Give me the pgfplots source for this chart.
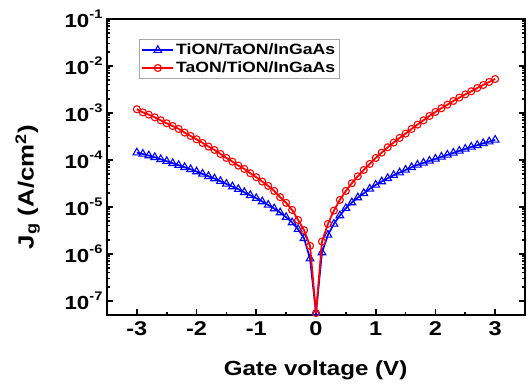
\documentclass[border=0pt]{standalone}
\usepackage{fontspec}
\setmainfont{Liberation Sans}[FakeStretch=1.18]
\usepackage{pgfplots}
\pgfplotsset{compat=1.18}
\newcommand{\tp}[1]{10\raisebox{0.45em}{\fontsize{12.5}{12.5}\selectfont\bfseries #1}}
\begin{document}
\begin{tikzpicture}
\useasboundingbox (-107bp,-76bp) rectangle (425bp,315bp);
\begin{axis}[
  at={(0,0)}, anchor=south west,
  width=418bp, height=296bp, scale only axis,
  ymode=log,
  xmin=-3.5, xmax=3.5, ymin=5e-8, ymax=1e-1,
  xtick={-3,-2,-1,0,1,2,3},
  xticklabels={-3,-2,-1,0,1,2,3},
  minor x tick num=1,
  ytick={1e-7,1e-6,1e-5,1e-4,1e-3,1e-2,1e-1},
  yticklabels={\tp{-7},\tp{-6},\tp{-5},\tp{-4},\tp{-3},\tp{-2},\tp{-1}},
  xtick pos=bottom, ytick pos=both,
  tick align=inside,
  major tick length=6bp, minor tick length=3.5bp,
  tick style={line width=1.6pt, black},
  axis line style={line width=2.2pt},
  xticklabel style={font=\fontsize{20}{20}\selectfont\bfseries, yshift=-3bp},
  yticklabel style={font=\fontsize{19}{19}\selectfont\bfseries, xshift=-1bp},
  xlabel={Gate voltage (V)},
  ylabel={J\textsubscript{g} (A/cm\textsuperscript{2})},
  xlabel style={font=\fontsize{20.5}{20.5}\selectfont\bfseries, at={(axis description cs:0.499,-0.186)}, anchor=center},
  ylabel style={font=\fontsize{22}{22}\selectfont\bfseries, at={(axis description cs:-0.19,0.432)}, anchor=center, rotate=0},
  clip mode=individual,
  legend style={at={(axis description cs:0.0766,0.932)}, anchor=north west, draw=gray!70, line width=0.8pt,
    font=\fontsize{15}{15}\selectfont\bfseries, inner xsep=2pt, inner ysep=2.5pt, row sep=1.5pt},
  legend cell align=left,
  legend image code/.code={\draw[mark repeat=2,mark phase=2,#1] plot coordinates {(0bp,0bp) (15.5bp,0bp) (31bp,0bp)};},
]
\addplot[blue, line width=1.7pt, mark=triangle, mark size=4.4bp, mark options={solid, fill=white, line width=1.1pt}] coordinates {
(-3.0,1.43e-4) (-2.9,1.34e-4) (-2.8,1.24e-4) (-2.7,1.14e-4) (-2.6,1.03e-4) (-2.5,9.38e-5)
(-2.4,8.49e-5) (-2.3,7.71e-5) (-2.2,6.98e-5) (-2.1,6.32e-5) (-2.0,5.65e-5) (-1.9,5.04e-5)
(-1.8,4.49e-5) (-1.7,4.01e-5) (-1.6,3.52e-5) (-1.5,3.08e-5) (-1.4,2.71e-5) (-1.3,2.38e-5)
(-1.2,2.05e-5) (-1.1,1.77e-5) (-1.0,1.53e-5) (-0.9,1.30e-5) (-0.8,1.10e-5) (-0.7,9.23e-6)
(-0.6,7.57e-6) (-0.5,6.03e-6) (-0.4,4.65e-6) (-0.3,3.35e-6) (-0.2,2.15e-6) (-0.1,7.9e-7)
(0.0,5.5e-8)
(0.1,1.07e-6) (0.2,2.54e-6) (0.3,4.35e-6) (0.4,6.55e-6) (0.5,9.38e-6) (0.6,1.24e-5)
(0.7,1.58e-5) (0.8,1.95e-5) (0.9,2.42e-5) (1.0,2.94e-5) (1.1,3.46e-5) (1.2,4.07e-5)
(1.3,4.72e-5) (1.4,5.37e-5) (1.5,6.12e-5) (1.6,6.98e-5) (1.7,7.83e-5) (1.8,8.63e-5)
(1.9,9.53e-5) (2.0,1.05e-4) (2.1,1.16e-4) (2.2,1.28e-4) (2.3,1.41e-4) (2.4,1.55e-4)
(2.5,1.71e-4) (2.6,1.89e-4) (2.7,2.05e-4) (2.8,2.26e-4) (2.9,2.45e-4) (3.0,2.67e-4)
};
\addlegendentry{TiON/TaON/InGaAs}
\addplot[red, line width=1.8pt, mark=o, mark size=3.5bp, mark options={solid, fill=white, line width=1.1pt}] coordinates {
(-3.0,1.20e-3) (-2.9,1.03e-3) (-2.8,9.20e-4) (-2.7,8.09e-4) (-2.6,6.98e-4) (-2.5,6.03e-4)
(-2.4,5.28e-4) (-2.3,4.57e-4) (-2.2,3.82e-4) (-2.1,3.24e-4) (-2.0,2.75e-4) (-1.9,2.30e-4)
(-1.8,1.92e-4) (-1.7,1.63e-4) (-1.6,1.34e-4) (-1.5,1.10e-4) (-1.4,9.20e-5) (-1.3,7.57e-5)
(-1.2,6.44e-5) (-1.1,5.21e-5) (-1.0,4.29e-5) (-0.9,3.46e-5) (-0.8,2.80e-5) (-0.7,2.19e-5)
(-0.6,1.61e-5) (-0.5,1.22e-5) (-0.4,8.63e-6) (-0.3,5.28e-6) (-0.2,3.19e-6) (-0.1,1.48e-6)
(0.0,5.5e-8)
(0.1,1.83e-6) (0.2,4.35e-6) (0.3,8.36e-6) (0.4,1.41e-5) (0.5,2.19e-5) (0.6,3.19e-5)
(0.7,4.49e-5) (0.8,6.12e-5) (0.9,8.22e-5) (1.0,1.10e-4) (1.1,1.43e-4) (1.2,1.86e-4)
(1.3,2.34e-4) (1.4,2.94e-4) (1.5,3.63e-4) (1.6,4.57e-4) (1.7,5.65e-4) (1.8,6.98e-4)
(1.9,8.63e-4) (2.0,1.05e-3) (2.1,1.26e-3) (2.2,1.50e-3) (2.3,1.80e-3) (2.4,2.12e-3)
(2.5,2.49e-3) (2.6,2.89e-3) (2.7,3.40e-3) (2.8,3.94e-3) (2.9,4.57e-3) (3.0,5.28e-3)
};
\addlegendentry{TaON/TiON/InGaAs}
\end{axis}
\end{tikzpicture}
\end{document}
